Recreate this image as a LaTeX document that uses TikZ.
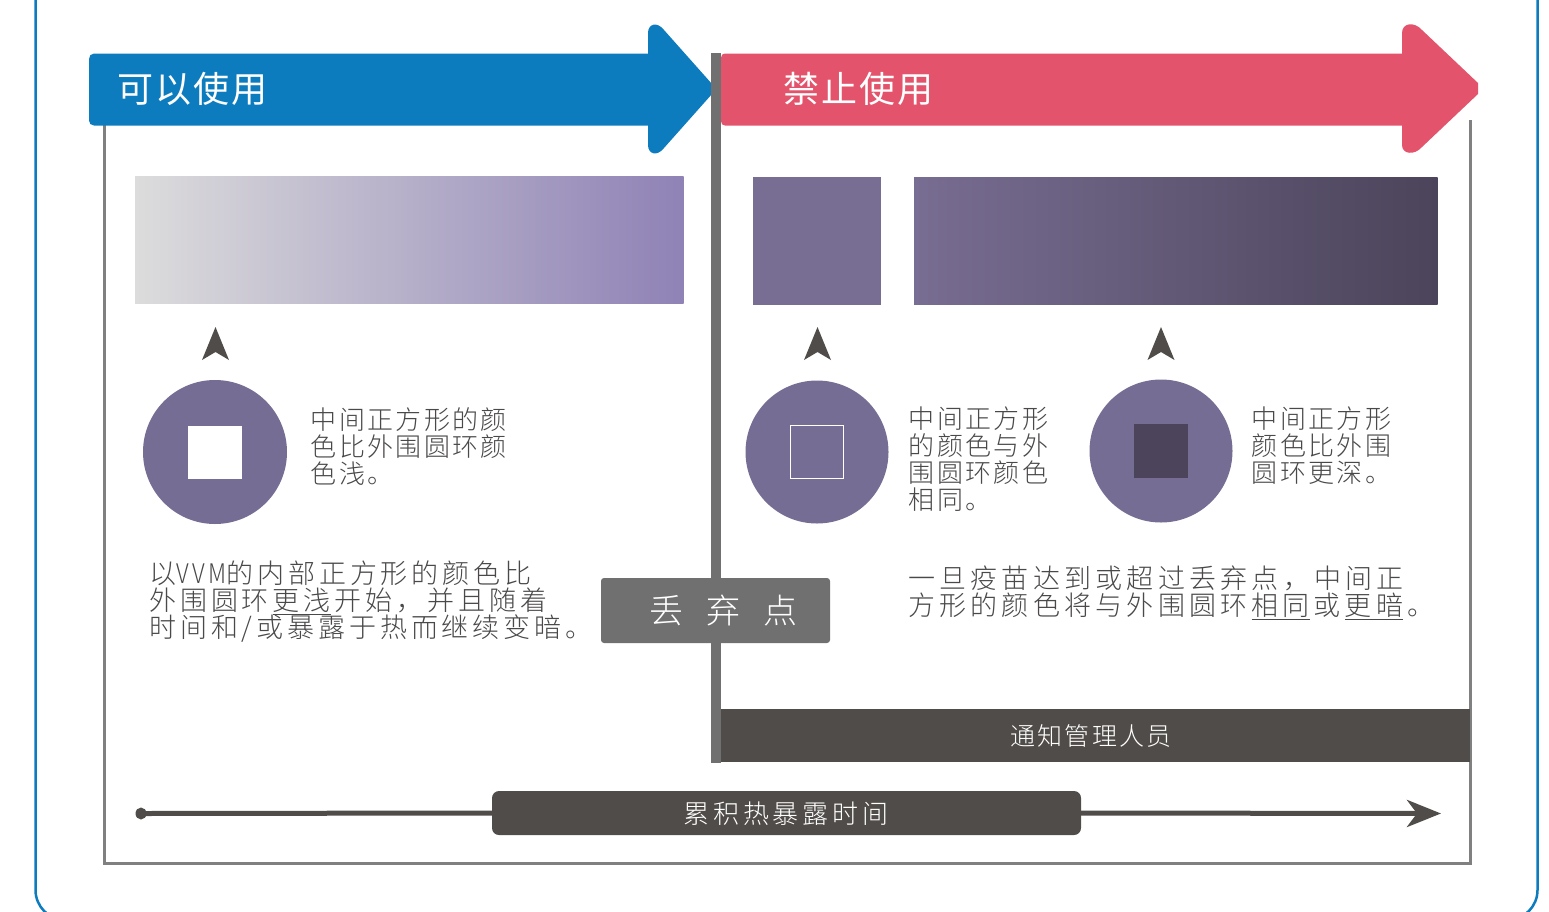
\documentclass[tikz,border=0pt]{standalone}
\usepackage{fontspec}
\usetikzlibrary{arrows.meta,shapes.geometric}
\newfontfamily\cjkbody[UprightFont=* Light,LetterSpace=9]{Noto Sans CJK SC}
\newfontfamily\cjkwide[UprightFont=* Light,LetterSpace=14.5]{Noto Sans CJK SC}
\newfontfamily\cjkwider[UprightFont=* Light,LetterSpace=15.7]{Noto Sans CJK SC}
\newfontfamily\cjktitle[LetterSpace=6]{Noto Sans CJK SC}
\newfontfamily\cjklabel[UprightFont=* Light]{Noto Sans CJK SC}
\newcommand{\markedtext}[1]{\kern4pt\underline{#1}\kern4pt}
\definecolor{frameblue}{HTML}{0C7CBF}
\definecolor{okblue}{HTML}{0C7CBF}
\definecolor{nored}{HTML}{E3536B}
\definecolor{midgrey}{HTML}{717071}
\definecolor{boxgrey}{HTML}{808080}
\definecolor{darkbar}{HTML}{504C49}
\definecolor{ringpurple}{HTML}{766D94}
\definecolor{squarepurple}{HTML}{786D92}
\definecolor{deeppurple}{HTML}{4B445A}
\definecolor{textgrey}{HTML}{4A4848}
\definecolor{gradstart}{HTML}{DCDCDC}
\definecolor{gradend}{HTML}{8F82B6}
\tikzset{
  bodytext/.style={anchor=north west,inner sep=0pt,align=left,text=textgrey,font=\cjkbody\fontsize{26}{27}\selectfont},
  widetext/.style={anchor=north west,inner sep=0pt,align=left,text=textgrey,font=\cjkwide\fontsize{27}{27}\selectfont},
  widertext/.style={anchor=north west,inner sep=0pt,align=left,text=textgrey,font=\cjkwider\fontsize{27}{27}\selectfont},
  titletext/.style={anchor=west,inner sep=0pt,text=white,font=\cjktitle\fontsize{36}{36}\selectfont},
  ring/.style={circle,fill=ringpurple,inner sep=0pt},
  inner/.style={rectangle,inner sep=0pt},
  pointer/.style={fill=darkbar,draw=none}
}
\begin{document}
\begin{tikzpicture}[x=1pt,y=-1pt]
\useasboundingbox (0,0) rectangle (1549,911);
\clip (0,0) rectangle (1549,911);
% outer frame
\draw[frameblue,line width=2.5pt,rounded corners=30pt] (35.5,-60) rectangle (1537.5,920);
% grey box
\draw[boxgrey,line width=3pt] (104,120) -- (104,863) -- (1470,863) -- (1470,120);
% banner arrows
\fill[okblue] (94,125.5) .. controls (91,125.5) and (89,123.5) .. (89,120.5) -- (89,59) .. controls (89,56) and (91,53.5) .. (94,53.5) -- (648,53.5) -- (648,33) .. controls (648,24) and (657,21) .. (664,30) -- (712,84) -- (712,94) -- (664,148) .. controls (657,157) and (648,154) .. (648,145) -- (648,125.5) -- cycle;
\fill[nored] (725,125.5) .. controls (722.5,125.5) and (721,124) .. (721,121) -- (721,58) .. controls (721,55) and (722.5,53.5) .. (725,53.5) -- (1402,53.5) -- (1402,33) .. controls (1402,23) and (1414,21) .. (1422,30) -- (1478,83) -- (1478,94) -- (1422,147) .. controls (1414,156) and (1402,154) .. (1402,145) -- (1402,125.5) -- cycle;
\node[titletext] (oktitle) at (117,89) {可以使用};
\node[titletext] (notitle) at (783,89) {禁止使用};
% divider
\fill[midgrey] (711,53) rectangle (721,763);
% gradients
\shade[left color=gradstart,right color=gradend] (135,176) rectangle (683.5,303);
\fill[squarepurple] (753,177) rectangle (881,305);
\shade[left color=squarepurple,right color=deeppurple] (914,177) rectangle (1437.5,304);
% pointers
\fill[pointer] (215.5,327) -- (229,360) -- (215.5,352) -- (202,360) -- cycle;
\fill[pointer] (817.5,327) -- (831,360) -- (817.5,352) -- (804,360) -- cycle;
\fill[pointer] (1161,327) -- (1174.5,360) -- (1161,352) -- (1147.5,360) -- cycle;
% circles
\node[ring,minimum size=144pt] (c1) at (215,452) {};
\node[ring,minimum size=143pt] (c2) at (817,452) {};
\node[ring,minimum size=143pt] (c3) at (1161,451) {};
\node[inner,fill=white,minimum width=54pt,minimum height=53pt] (s1) at (215,452) {};
\node[inner,draw=white,line width=0.8pt,minimum width=53pt,minimum height=53pt] (s2) at (817,451.5) {};
\node[inner,fill=deeppurple,minimum width=54pt,minimum height=54pt] (s3) at (1161,451) {};
% texts
\node[bodytext] (t1) at (310.5,407) {中间正方形的颜\\色比外围圆环颜\\色浅。};
\node[bodytext] (t2) at (908.5,407) {中间正方形\\的颜色与外\\围圆环颜色\\相同。};
\node[bodytext] (t3) at (1251.5,407) {中间正方形\\颜色比外围\\圆环更深。};
\node[widetext] (t4) at (149,561) {以\scalebox{0.85}[1]{VVM}的内部正方形的颜色比\\外围圆环\markedtext{更浅}开始，并且随着\\时间和/或暴露于热而继续变暗。};
\node[widertext] (t5) at (908,566) {一旦疫苗达到或超过丢弃点，中间正\\方形的颜色将与外围圆环\markedtext{相同}或\markedtext{更暗}。};
% discard box
\node[rectangle,fill=midgrey,rounded corners=3pt,minimum width=229pt,minimum height=65pt,inner sep=0pt] (discard) at (715.5,610.5) {};
\node[inner sep=0pt,text=white,font=\cjklabel\fontsize{34}{34}\selectfont] (discardlabel) at (723.5,610.5) {丢\hspace{23pt}弃\hspace{23pt}点};
% notify bar
\node[inner,fill=darkbar,minimum width=749pt,minimum height=53pt] (notify) at (1095.5,735.5) {};
\node[inner sep=0pt,text=white,font=\cjkbody\fontsize{25}{25}\selectfont] (notifylabel) at (1091,736) {通知管理人员};
% timeline
\node[ellipse,fill=darkbar,inner sep=0pt,minimum width=11pt,minimum height=12pt] (dot) at (141,813.5) {};
\coordinate (tipend) at (1441,813.5);
\node[rectangle,fill=darkbar,rounded corners=7pt,inner sep=0pt,minimum width=589pt,minimum height=44pt] (timebox) at (786.5,813) {};
\draw[darkbar,line width=5pt] (dot.center) -- (timebox.west);
\draw[darkbar,line width=5pt,-{Stealth[length=34pt,width=27pt,inset=10pt]}] (timebox.east) -- (tipend);
\node[inner sep=0pt,text=white,font=\cjkwide\fontsize{26}{26}\selectfont] (timelabel) at (786,814) {累积热暴露时间};
\end{tikzpicture}
\end{document}
